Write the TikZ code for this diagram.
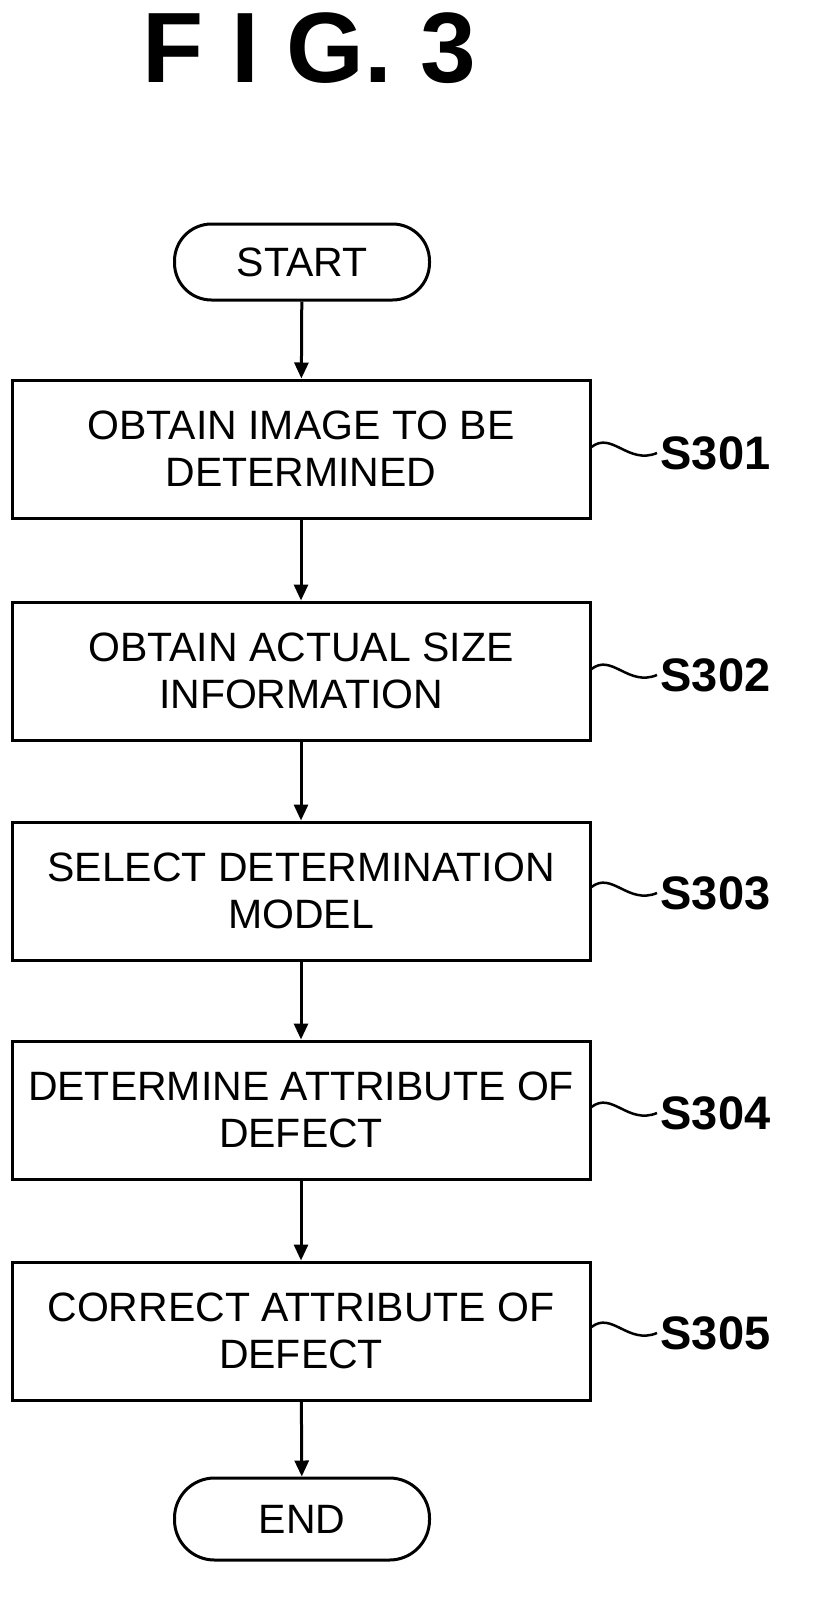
\documentclass[tikz,border=0pt]{standalone}
\usepackage{fontspec}
\setmainfont{Liberation Sans}
\usetikzlibrary{arrows.meta}
\begin{document}
\begin{tikzpicture}[x=1pt,y=-1pt,
  stepbox/.style={draw,line width=3pt,minimum width=578pt,minimum height=138pt,align=center,font=\fontsize{41}{47}\selectfont,inner sep=0pt},
  term/.style={draw,line width=3pt,rounded corners=37pt,minimum width=255pt,minimum height=76pt,font=\fontsize{41}{46}\selectfont,inner sep=0pt},
  lab/.style={font=\bfseries\fontsize{47}{50}\selectfont,anchor=west},
  arr/.style={line width=3pt,-{Triangle[length=16pt,width=14pt]}},
  sq/.style={line width=2.5pt}]
\useasboundingbox (0,0) rectangle (816,1611);
\node[font=\bfseries\fontsize{100}{104}\selectfont] (title) at (309,48) {F I G.\ 3};
\node[term] (start) at (302,262) {START};
\node[stepbox] (s1) at (301,449) {OBTAIN IMAGE TO BE\\DETERMINED};
\node[stepbox] (s2) at (301,671) {OBTAIN ACTUAL SIZE\\INFORMATION};
\node[stepbox] (s3) at (301,891) {SELECT DETERMINATION\\MODEL};
\node[stepbox] (s4) at (301,1110) {DETERMINE ATTRIBUTE OF\\DEFECT};
\node[stepbox] (s5) at (301,1331) {CORRECT ATTRIBUTE OF\\DEFECT};
\node[term,minimum height=82pt,rounded corners=40pt] (end) at (302,1519) {END};
\draw[arr] (start) -- (s1);
\draw[arr] (s1) -- (s2);
\draw[arr] (s2) -- (s3);
\draw[arr] (s3) -- (s4);
\draw[arr] (s4) -- (s5);
\draw[arr] (s5) -- (end);
\foreach \i/\y in {1/453,2/675,3/893,4/1113,5/1333}{
  \node[lab] (l\i) at (657,\y) {S30\i};
  \draw[sq] (s\i.east |- 0,\y-6) .. controls (612,\y-22) and (628,\y+12) .. (l\i.west);
}
\end{tikzpicture}
\end{document}
